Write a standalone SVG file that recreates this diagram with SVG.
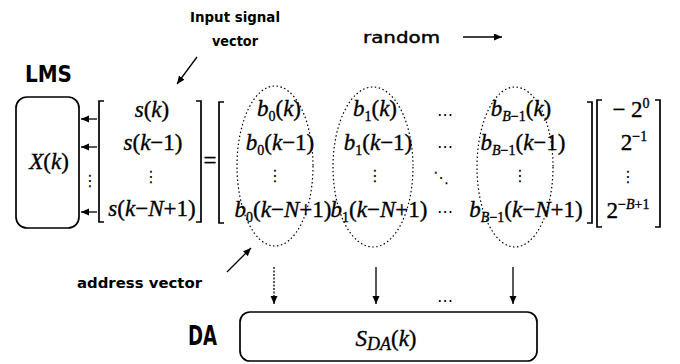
<svg xmlns="http://www.w3.org/2000/svg" width="680" height="364" viewBox="0 0 680 364">
<style>
.m{font-family:"Liberation Serif","Times New Roman",serif;font-size:23px;fill:#000;stroke:#000;stroke-width:0.35}
.i{font-style:italic}
.s{font-size:14px}
.lbl{font-family:"DejaVu Sans","Liberation Sans",sans-serif;font-weight:bold;font-size:14px;fill:#000}
.big{font-family:"DejaVu Sans Condensed","DejaVu Sans",sans-serif;font-weight:bold;fill:#000}
.sym{font-family:"DejaVu Sans",sans-serif;font-size:16px;fill:#000}
.br{fill:none;stroke:#000;stroke-width:1.7}
.box{fill:#fff;stroke:#000;stroke-width:1.7}
.ell{fill:none;stroke:#000;stroke-width:1.2;stroke-dasharray:1.5 2.5}
.ar{stroke:#000;stroke-width:1.3;fill:none;marker-end:url(#ah)}
</style>
<defs>
<marker id="ah" markerUnits="userSpaceOnUse" markerWidth="9" markerHeight="8" refX="8" refY="3.5" orient="auto">
<path d="M0,0 L8,3.5 L0,7 z" fill="#000"/>
</marker>
</defs>

<g id="lms">
<rect class="box" x="16" y="97" width="63" height="131" rx="11"/>
<text class="big" x="25" y="82" font-size="23" textLength="47" lengthAdjust="spacingAndGlyphs">LMS</text>
<text class="m" x="49" y="169" font-size="30" text-anchor="middle"><tspan class="i">X</tspan>(<tspan class="i">k</tspan>)</text>
</g>

<g id="input-vector">
<path class="br" d="M104,101 H99 V222 H104"/>
<path class="br" d="M196,101 H201 V222 H196"/>
<text class="m" x="152" y="117" text-anchor="middle"><tspan class="i">s</tspan>(<tspan class="i">k</tspan>)</text>
<text class="m" x="153" y="150" text-anchor="middle"><tspan class="i">s</tspan>(<tspan class="i">k</tspan>−1)</text>
<text class="sym" x="151" y="182" font-size="18" text-anchor="middle">⋮</text>
<text class="m" x="152" y="216" text-anchor="middle"><tspan class="i">s</tspan>(<tspan class="i">k</tspan>−<tspan class="i">N</tspan>+1)</text>
<text class="sym" x="90" y="186" font-size="18" text-anchor="middle">⋮</text>
</g>

<text class="m" x="210" y="168" font-size="17" text-anchor="middle">=</text>

<g id="address-matrix">
<path class="br" d="M224,102 H219 V223 H224"/>
<path class="br" d="M587,102 H592 V223 H587"/>
<ellipse class="ell" cx="275" cy="166" rx="38" ry="80"/>
<ellipse class="ell" cx="373" cy="167" rx="40" ry="80"/>
<ellipse class="ell" cx="515" cy="167" rx="38" ry="80"/>
<text class="m" x="279" y="116" text-anchor="middle"><tspan class="i">b</tspan><tspan class="s" dy="5">0</tspan><tspan dy="-5">(</tspan><tspan class="i">k</tspan>)</text>
<text class="m" x="280" y="150" text-anchor="middle"><tspan class="i">b</tspan><tspan class="s" dy="5">0</tspan><tspan dy="-5">(</tspan><tspan class="i">k</tspan>−1)</text>
<text class="sym" x="275" y="181" font-size="18" text-anchor="middle">⋮</text>
<text class="m" x="283" y="217" text-anchor="middle"><tspan class="i">b</tspan><tspan class="s" dy="5">0</tspan><tspan dy="-5">(</tspan><tspan class="i">k</tspan>−<tspan class="i">N</tspan>+1)</text>

<text class="m" x="375" y="116" text-anchor="middle"><tspan class="i">b</tspan><tspan class="s" dy="5">1</tspan><tspan dy="-5">(</tspan><tspan class="i">k</tspan>)</text>
<text class="m" x="378" y="150" text-anchor="middle"><tspan class="i">b</tspan><tspan class="s" dy="5">1</tspan><tspan dy="-5">(</tspan><tspan class="i">k</tspan>−1)</text>
<text class="sym" x="375" y="181" font-size="18" text-anchor="middle">⋮</text>
<text class="m" x="379" y="217" text-anchor="middle"><tspan class="i">b</tspan><tspan class="s" dy="5">1</tspan><tspan dy="-5">(</tspan><tspan class="i">k</tspan>−<tspan class="i">N</tspan>+1)</text>

<text class="sym" x="445" y="120" text-anchor="middle">⋯</text>
<text class="sym" x="445" y="152" text-anchor="middle">⋯</text>
<text class="sym" x="441" y="183" text-anchor="middle">⋱</text>
<text class="sym" x="445" y="217" text-anchor="middle">⋯</text>

<text class="m" x="521" y="116" text-anchor="middle"><tspan class="i">b</tspan><tspan class="s" dy="5"><tspan class="i">B</tspan>−1</tspan><tspan dy="-5">(</tspan><tspan class="i">k</tspan>)</text>
<text class="m" x="523" y="150" text-anchor="middle"><tspan class="i">b</tspan><tspan class="s" dy="5"><tspan class="i">B</tspan>−1</tspan><tspan dy="-5">(</tspan><tspan class="i">k</tspan>−1)</text>
<text class="sym" x="520" y="181" font-size="18" text-anchor="middle">⋮</text>
<text class="m" x="526" y="217" text-anchor="middle"><tspan class="i">b</tspan><tspan class="s" dy="5"><tspan class="i">B</tspan>−1</tspan><tspan dy="-5">(</tspan><tspan class="i">k</tspan>−<tspan class="i">N</tspan>+1)</text>
</g>

<g id="weights">
<path class="br" d="M602,100 H597 V227 H602"/>
<path class="br" d="M655,100 H660 V227 H655"/>
<text class="m" x="631" y="117" text-anchor="middle">− 2<tspan class="s" dy="-9">0</tspan></text>
<text class="m" x="634" y="150" text-anchor="middle">2<tspan class="s" dy="-9">−1</tspan></text>
<text class="sym" x="628" y="182" font-size="18" text-anchor="middle">⋮</text>
<text class="m" x="628" y="218" text-anchor="middle">2<tspan class="s" dy="-9">−<tspan class="i">B</tspan>+1</tspan></text>
</g>

<g id="da">
<rect class="box" x="240" y="312" width="297" height="49" rx="10"/>
<text class="big" x="188" y="345" font-size="27" textLength="29" lengthAdjust="spacingAndGlyphs">DA</text>
<text class="m" x="386" y="346" font-size="29" text-anchor="middle"><tspan class="i">S</tspan><tspan class="i" font-size="18" dy="4">DA</tspan><tspan dy="-4">(</tspan><tspan class="i">k</tspan>)</text>
</g>

<g id="labels">
<text class="lbl" x="190" y="22" textLength="90" lengthAdjust="spacingAndGlyphs">Input signal</text>
<text class="lbl" x="212" y="46" textLength="46" lengthAdjust="spacingAndGlyphs">vector</text>
<text class="lbl" x="77" y="288" textLength="125" lengthAdjust="spacingAndGlyphs">address vector</text>
<text class="lbl" x="363" y="43" style="font-weight:normal;font-size:15px;stroke:#000;stroke-width:0.4" textLength="77" lengthAdjust="spacingAndGlyphs">random</text>
<text class="sym" x="445" y="306" text-anchor="middle">⋯</text>
</g>

<g id="connectors">
<line class="ar" x1="97" y1="119" x2="81" y2="119"/>
<line class="ar" x1="97" y1="147" x2="81" y2="147"/>
<line class="ar" x1="97" y1="212" x2="81" y2="212"/>
<line class="ar" x1="197" y1="57" x2="177" y2="84"/>
<line class="ar" x1="227" y1="272" x2="251" y2="248"/>
<line class="ar" x1="463" y1="37" x2="502" y2="37"/>
<line class="ar" x1="274" y1="267" x2="274" y2="304" stroke-dasharray="2 1.5"/>
<line class="ar" x1="376" y1="267" x2="376" y2="304" stroke-width="2"/>
<line class="ar" x1="513" y1="267" x2="513" y2="304" stroke-width="1"/>
</g>
</svg>
